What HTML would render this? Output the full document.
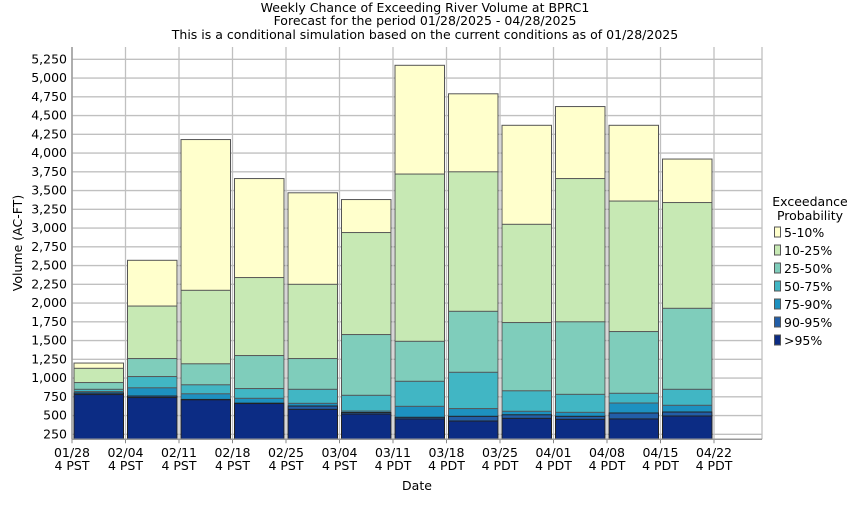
<!DOCTYPE html>
<html><head><meta charset="utf-8"><style>
body{margin:0;background:#fff}
svg text{font-family:"DejaVu Sans","Liberation Sans",sans-serif;font-size:12.5px;fill:#000}
</style></head><body>
<svg id="c" width="850" height="500" viewBox="0 0 850 500">
<g>
<text x="425" y="12" text-anchor="middle">Weekly Chance of Exceeding River Volume at BPRC1</text>
<text x="425" y="25" text-anchor="middle">Forecast for the period 01/28/2025 - 04/28/2025</text>
<text x="425" y="39" text-anchor="middle">This is a conditional simulation based on the current conditions as of 01/28/2025</text>
</g>
<g id="grid"></g>
<g id="bars"></g>
<g id="axes"></g>
<text x="22" y="243" text-anchor="middle" transform="rotate(-90 22 243)">Volume (AC-FT)</text>
<text x="417" y="490" text-anchor="middle">Date</text>
<g id="legend">
<text x="810" y="206" text-anchor="middle">Exceedance</text>
<text x="810" y="220" text-anchor="middle">Probability</text>
</g>
</svg>
<script>
const dates=["01/28","02/04","02/11","02/18","02/25","03/04","03/11","03/18","03/25","04/01","04/08","04/15","04/22"];
const zones=["4 PST","4 PST","4 PST","4 PST","4 PST","4 PST","4 PDT","4 PDT","4 PDT","4 PDT","4 PDT","4 PDT","4 PDT"];
const yTicks=[250,500,750,1000,1250,1500,1750,2000,2250,2500,2750,3000,3250,3500,3750,4000,4250,4500,4750,5000,5250];
const seriesNames=["5-10%","10-25%","25-50%","50-75%","75-90%","90-95%",">95%"];
const p95=[780,740,710,660,583,520,455,427,463,450,455,494];
const p90=[800,760,715,665,627,540,477,490,510,490,534,547];
const p75=[820,870,790,730,663,560,623,593,557,543,667,637];
const p50=[850,1020,910,860,850,770,957,1077,830,783,797,850];
const p25=[940,1260,1190,1300,1260,1580,1490,1890,1740,1750,1620,1930];
const p10=[1130,1960,2170,2340,2250,2940,3720,3750,3050,3660,3360,3340];
const p05=[1200,2570,4180,3660,3470,3380,5170,4790,4370,4620,4370,3920];
const colors=["#ffffcc","#c7e9b4","#7fcdbb","#41b6c4","#1d91c0","#225ea8","#0c2c84"];
const NS="http://www.w3.org/2000/svg";
const L=72,R=762,T=47,B=439.3,step=53.5;
const y=v=>434.3-(v-250)*0.075;
const x=i=>L+i*step;
function mk(tag,attrs,parent){const e=document.createElementNS(NS,tag);for(const k in attrs)e.setAttribute(k,attrs[k]);parent.appendChild(e);return e;}
const grid=document.getElementById('grid'),bars=document.getElementById('bars'),axes=document.getElementById('axes'),legend=document.getElementById('legend');
yTicks.forEach(v=>{const l=mk('line',{x1:L,x2:R,y1:y(v),y2:y(v),stroke:'#c0c0c0','stroke-width':1.3},grid);


const t=mk('text',{x:L-5,y:y(v)+4,'text-anchor':'end'},axes);t.textContent=v.toLocaleString('en-US');

});
dates.forEach((d,i)=>{const l=mk('line',{x1:x(i),x2:x(i),y1:T,y2:B,stroke:'#c0c0c0','stroke-width':1.3},grid);


mk('line',{x1:x(i),x2:x(i),y1:B,y2:B+4,stroke:'#888'},axes);
const t=mk('text',{x:x(i),y:457,'text-anchor':'middle'},axes);t.textContent=d;


const t2=mk('text',{x:x(i),y:470,'text-anchor':'middle'},axes);t2.textContent=zones[i];

});
mk('line',{x1:R,x2:R,y1:T,y2:B,stroke:'#c0c0c0','stroke-width':1.3},grid);
mk('line',{x1:L,x2:L,y1:T,y2:B,stroke:'#999','stroke-width':1.5},axes);
mk('line',{x1:L,x2:R,y1:B,y2:B,stroke:'#999','stroke-width':1.5},axes);
const series=[p05,p10,p25,p50,p75,p90,p95];
p95.forEach((_,i)=>{const x0=x(i)+2,w=step-4;
series.forEach((s,k)=>{const top=y(s[i]);const r=mk('rect',{x:x0,y:top,width:w,height:B-top,fill:colors[k],stroke:k>=5?'#222':'#555','stroke-width':1},bars);

});});
seriesNames.forEach((n,k)=>{const yy=227+k*18;
const r=mk('rect',{x:774.5,y:yy,width:6,height:10,fill:colors[k],stroke:'#555'},legend);


const t=mk('text',{x:784,y:yy+10},legend);t.textContent=n;

});
</script>
</body></html>
